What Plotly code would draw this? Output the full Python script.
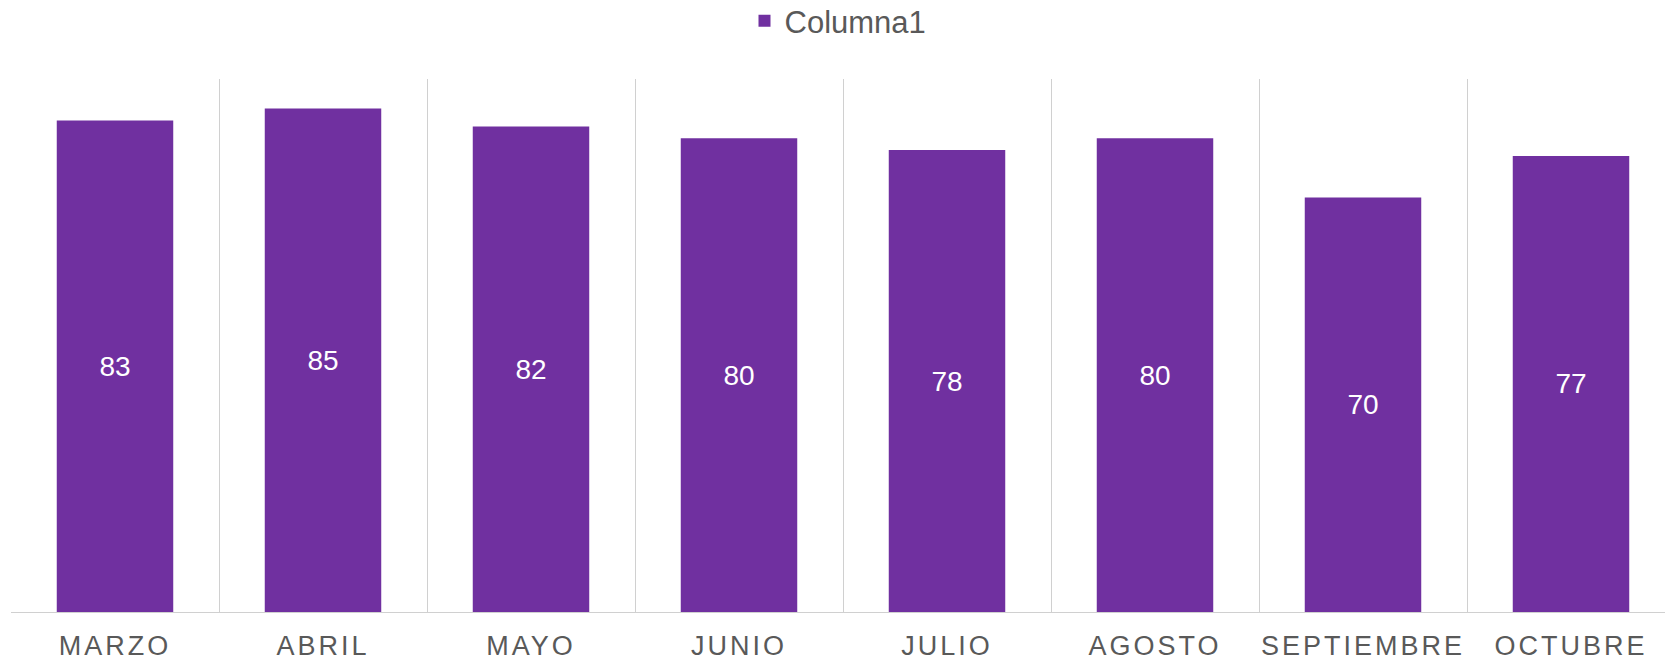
import plotly.graph_objects as go

months = ["MARZO", "ABRIL", "MAYO", "JUNIO", "JULIO", "AGOSTO", "SEPTIEMBRE", "OCTUBRE"]
values = [83, 85, 82, 80, 78, 80, 70, 77]
series_name = "Columna1"

W, H = 1665, 662
ml, mr, mt, mb = 11, 0, 79, 50
cat_px = 208.0
plot_w = W - ml - mr

fig = go.Figure()
fig.add_trace(go.Bar(
    x=months, y=values, name=series_name,
    marker=dict(color="#7030A0", line=dict(width=0)),
    width=0.56,
    text=[str(v) for v in values],
    textposition="inside", insidetextanchor="middle",
    textfont=dict(color="white", size=28, family="Liberation Sans, Arial, sans-serif"),
    showlegend=True,
))

fig.update_layout(
    width=W, height=H,
    margin=dict(l=ml, r=mr, t=mt, b=mb, autoexpand=False),
    plot_bgcolor="white", paper_bgcolor="white",
    font=dict(family="Liberation Sans, Arial, sans-serif", color="#595959"),
    showlegend=True,
    legend=dict(orientation="h", x=0.5, xanchor="center", yref="container",
                y=1 - 21 / H, yanchor="middle",
                font=dict(size=31, color="#595959"), itemwidth=30),
    xaxis=dict(
        type="category", range=[-0.5, -0.5 + plot_w / cat_px],
        tickson="boundaries", showgrid=True, gridcolor="#d0d0d0", gridwidth=1,
        ticks="", showline=True, linecolor="#d0d0d0", linewidth=1,
        tickfont=dict(size=27, color="#595959"), ticklabelstandoff=10,
        zeroline=False, automargin=False,
    ),
    yaxis=dict(range=[0, 90], showgrid=False, showticklabels=False, zeroline=False,
               showline=False, ticks="", automargin=False),
)

post = """
var s=document.createElement('style');
s.innerHTML='html,body{margin:0;padding:0;overflow:hidden;} .xtick text{letter-spacing:3px;}';
document.head.appendChild(s);
"""
fig.write_html("out.html", post_script=post, config={"displayModeBar": False})
